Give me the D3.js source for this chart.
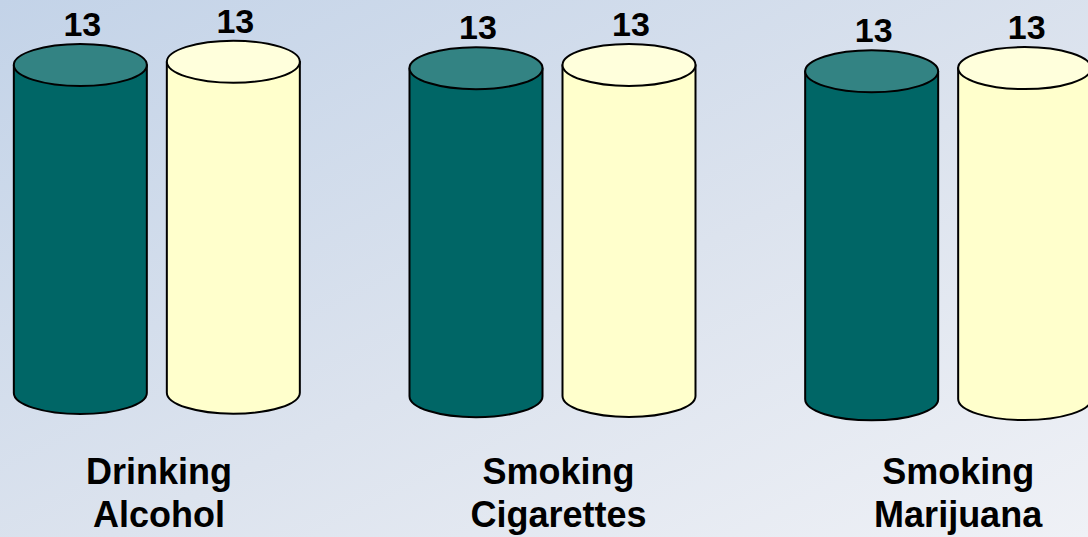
<!DOCTYPE html>
<html>
<head>
<meta charset="utf-8">
<script src="https://cdn.jsdelivr.net/npm/d3@7"></script>
<style>
html,body{margin:0;padding:0;overflow:hidden;}
svg{display:block;}
text{font-family:"Liberation Sans",Arial,Helvetica,sans-serif;font-weight:bold;fill:#000;}
</style>
</head>
<body>
<svg id="chart" width="1088" height="537"></svg>
<script>
// ---- data ----
const categories = [["Drinking","Alcohol"],["Smoking","Cigarettes"],["Smoking","Marijuana"]];
const series = ["A","B"];
const seriesValues = {A:[13,13,13], B:[13,13,13]};
const valueLabels = {A:["13","13","13"], B:["13","13","13"]};

// ---- layout ----
const W = 1088, H = 537;
const svg = d3.select("#chart");
const defs = svg.append("defs");
const g = defs.append("linearGradient").attr("id","bg").attr("x1","0").attr("y1","0").attr("x2","1").attr("y2","1");
g.append("stop").attr("offset","0").attr("stop-color","#c3d3e8");
g.append("stop").attr("offset","0.55").attr("stop-color","#dce3ee");
g.append("stop").attr("offset","1").attr("stop-color","#eff1f6");
svg.append("rect").attr("width",W).attr("height",H).attr("fill","url(#bg)");

const catKeys = categories.map(c => c.join(" "));
const x0 = d3.scaleBand().domain(catKeys).range([-41, 1146]).paddingInner(0).paddingOuter(0);
const bw = x0.bandwidth();
const x1 = d3.scaleBand().domain(series).range([bw/2 - 143, bw/2 + 143]).paddingInner(20/153).paddingOuter(0);
const h = d3.scaleLinear().domain([0, 13]).range([0, 329]);

const style = {
  A: {side:"#006666", top:"#338383", heightK:0.997, baseOff:0},
  B: {side:"#ffffcc", top:"#ffffdc", heightK:1.006, baseOff:-1.5}
};
const baseY = 393, tilt = 0.008, tiltRef = 81;
const ry = 21;

categories.forEach((cat, i) => {
  const key = catKeys[i];
  series.forEach(s => {
    const v = seriesValues[s][i];
    const left = x0(key) + x1(s);
    const right = left + x1.bandwidth();
    const cx = (left + right) / 2;
    const rx = x1.bandwidth() / 2;
    const yb = baseY + tilt * (cx - tiltRef) + style[s].baseOff;
    const yt = yb - h(v) * style[s].heightK;
    const body = `M${left},${yt} L${left},${yb} A${rx},${ry} 0 0 0 ${right},${yb} L${right},${yt} Z`;
    svg.append("path").attr("d", body).attr("fill", style[s].side)
      .attr("stroke","#000").attr("stroke-width",2).attr("stroke-linejoin","round");
    svg.append("ellipse").attr("cx",cx).attr("cy",yt).attr("rx",rx).attr("ry",ry)
      .attr("fill", style[s].top).attr("stroke","#000").attr("stroke-width",2);
    svg.append("text").attr("x", cx + 2).attr("y", yt - ry - 8)
      .attr("text-anchor","middle").attr("font-size",34).text(valueLabels[s][i]);
  });
  const gc = x0(key) + bw/2;
  const t = svg.append("text").attr("text-anchor","middle").attr("font-size",36);
  cat.forEach((line, j) => {
    t.append("tspan").attr("x", gc * 1.01 + 0.5).attr("y", 484 + j * 43).text(line);
  });
});
</script>
</body>
</html>
